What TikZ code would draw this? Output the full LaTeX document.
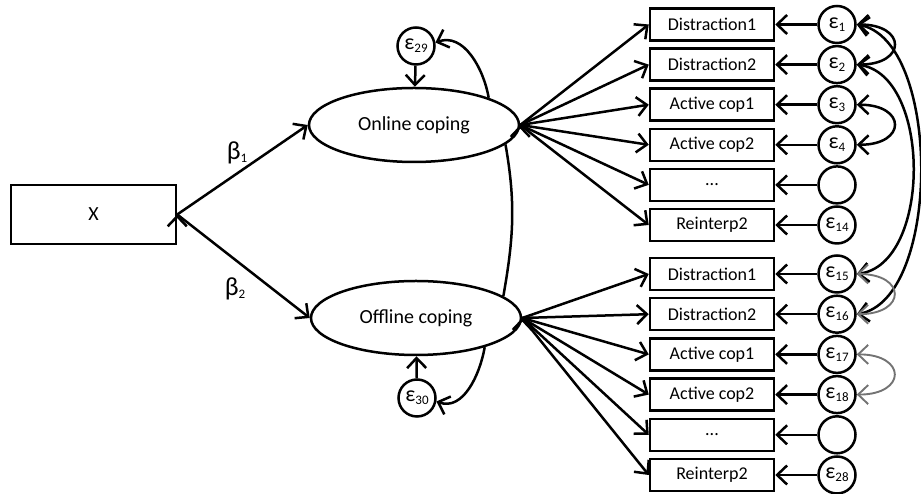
\documentclass[tikz,border=0pt]{standalone}
\usepackage{fontspec}
\setmainfont{Carlito}
\usetikzlibrary{positioning,shapes.geometric,arrows.meta}

\newcommand{\lab}[2]{#1\raisebox{-3pt}{\fontsize{13}{13}\selectfont #2}}

\tikzset{
    obs/.style={draw,rectangle,minimum width=124pt,minimum height=32pt,inner sep=0pt,font=\fontsize{18}{18}\selectfont},
    lat/.style={draw,ellipse,minimum width=210pt,minimum height=74pt,inner sep=0pt,font=\fontsize{20}{20}\selectfont},
    err/.style={draw,circle,minimum size=37pt,inner sep=0pt,font=\fontsize{22}{22}\selectfont},
    cov/.style={<->,line width=1.9pt,black!55}
}

\begin{document}
\begin{tikzpicture}[x=1pt,y=1pt,on grid,line width=2.5pt,>={Straight Barb[length=10pt,width=19pt]}]
    \useasboundingbox (0,0) rectangle (921,494);

    \node[draw,rectangle,minimum width=165pt,minimum height=59pt,font=\fontsize{20}{20}\selectfont] (x) at (93.5,279.5) {X};
    \node[lat] (on) at (414,369) {Online coping};
    \node[lat] (off) at (416,176) {Offline coping};
    \node[err] (e29) at (416,448) {\lab{ε}{29}};
    \node[err] (e30) at (417,96) {\lab{ε}{30}};
    \node[font=\fontsize{26}{26}\selectfont] (b1) at (237,341) {\lab{β}{1}};
    \node[font=\fontsize{26}{26}\selectfont] (b2) at (235,205) {\lab{β}{2}};

    % online indicators
    \node[obs] (on1) at (712,469.5) {Distraction1};
    \node[obs,below=40.1pt of on1] (on2) {Distraction2};
    \node[obs,below=40.1pt of on2] (on3) {Active cop1};
    \node[obs,below=40.1pt of on3] (on4) {Active cop2};
    \node[obs,below=40.1pt of on4] (on5) {...};
    \node[obs,below=40.1pt of on5] (on6) {Reinterp2};

    \node[err,right=125pt of on1] (e1) {\lab{ε}{1}};
    \node[err,right=125pt of on2] (e2) {\lab{ε}{2}};
    \node[err,right=125pt of on3] (e3) {\lab{ε}{3}};
    \node[err,right=125pt of on4] (e4) {\lab{ε}{4}};
    \node[err,right=125pt of on5] (e5) {};
    \node[err,right=125pt of on6] (e14) {\lab{ε}{14}};

    % offline indicators
    \node[obs] (off1) at (712,220) {Distraction1};
    \node[obs,below=40.2pt of off1] (off2) {Distraction2};
    \node[obs,below=40.2pt of off2] (off3) {Active cop1};
    \node[obs,below=40.2pt of off3] (off4) {Active cop2};
    \node[obs,below=40.2pt of off4] (off5) {...};
    \node[obs,below=40.2pt of off5] (off6) {Reinterp2};

    \node[err,right=125pt of off1] (e15) {\lab{ε}{15}};
    \node[err,right=125pt of off2] (e16) {\lab{ε}{16}};
    \node[err,right=125pt of off3] (e17) {\lab{ε}{17}};
    \node[err,right=125pt of off4] (e18) {\lab{ε}{18}};
    \node[err,right=125pt of off5] (e19) {};
    \node[err,right=125pt of off6] (e28) {\lab{ε}{28}};

    \draw[->] (x.east) edge (on.west) edge (off.west);
    \draw[->] (e29) edge (on);
    \draw[->] (e30) edge (off);
    \draw[->] (on.20) to[out=100,in=20] (e29.10);
    \draw[->] (off.-23) to[out=-100,in=-20] (e30.-10);
    \draw (on.-12) to[out=-80,in=80] (off.14);

    \draw[->] (on.east) edge (on1.west) edge (on2.west) edge (on3.west)
        edge (on4.west) edge (on5.west) edge (on6.west);
    \draw[->] (off.east) edge (off1.west) edge (off2.west) edge (off3.west)
        edge (off4.west) edge (off5.west) edge (off6.west);

    \draw[->] (e1) edge (on1) (e2) edge (on2) (e3) edge (on3)
        (e4) edge (on4) (e5) edge (on5) (e14) edge (on6);
    \draw[->] (e15) edge (off1) (e16) edge (off2) (e17) edge (off3)
        (e18) edge (off4) (e19) edge (off5) (e28) edge (off6);

    % correlated errors
    \draw[<->] (e1.east) .. controls +(50,0) and +(50,0) .. (e2.east);
    \draw[<->] (e3.east) .. controls +(50,0) and +(50,0) .. (e4.east);
    \draw[<->] (e1.east) .. controls +(85,-15) and +(85,15) .. (e16.east);
    \draw[<->] (e2.east) .. controls +(75,-10) and +(75,10) .. (e15.east);
    \draw[cov] (e15.east) .. controls +(50,0) and +(50,0) .. (e16.east);
    \draw[cov] (e17.east) .. controls +(50,0) and +(50,0) .. (e18.east);
\end{tikzpicture}
\end{document}
